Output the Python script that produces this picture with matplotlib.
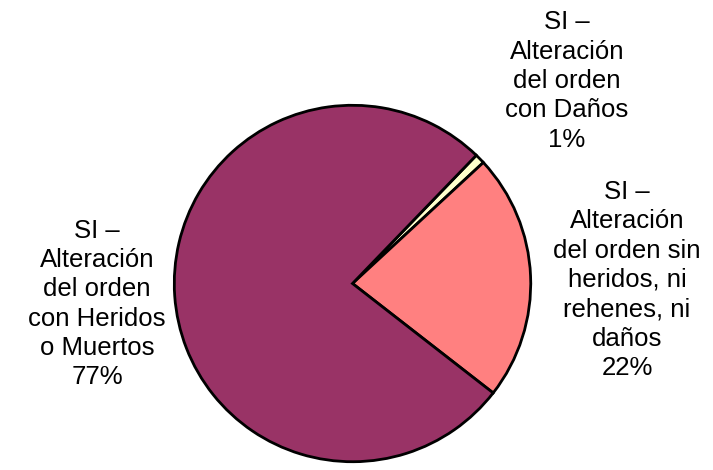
import matplotlib
matplotlib.use("Agg")
import matplotlib.pyplot as plt

labels = ["SI –\nAlteración\ndel orden\ncon Daños", 
          "SI –\nAlteración\ndel orden sin\nheridos, ni\nrehenes, ni\ndaños",
          "SI –\nAlteración\ndel orden\ncon Heridos\no Muertos"]
values = [0.9, 22.4, 76.7]
pct_text = ["1%", "22%", "77%"]
colors = ["#FFFFCC", "#FF8080", "#993366"]

plt.rcParams['font.family'] = ['Liberation Sans', 'DejaVu Sans']

fig = plt.figure(figsize=(7.13, 4.70), dpi=100)
W, H = 713, 470
cx, cy, r = 352.5, 283.5, 180
ax = fig.add_axes([(cx - r) / W, (H - cy - r) / H, 2 * r / W, 2 * r / H])
ax.pie(values, colors=colors, startangle=46, counterclock=False,
       wedgeprops=dict(edgecolor="black", linewidth=2), radius=1)
ax.set_xlim(-1.01, 1.01)
ax.set_ylim(-1.01, 1.01)
ax.set_aspect('auto')
ax.axis('off')

positions = [(567, 81), (627, 280), (97, 304)]
for lab, p, (x, y) in zip(labels, pct_text, positions):
    fig.text(x / W, 1 - y / H, lab + "\n" + p, ha='center', va='center',
             fontsize=18.5, linespacing=1.28)

fig.savefig("out.png", dpi=100)
